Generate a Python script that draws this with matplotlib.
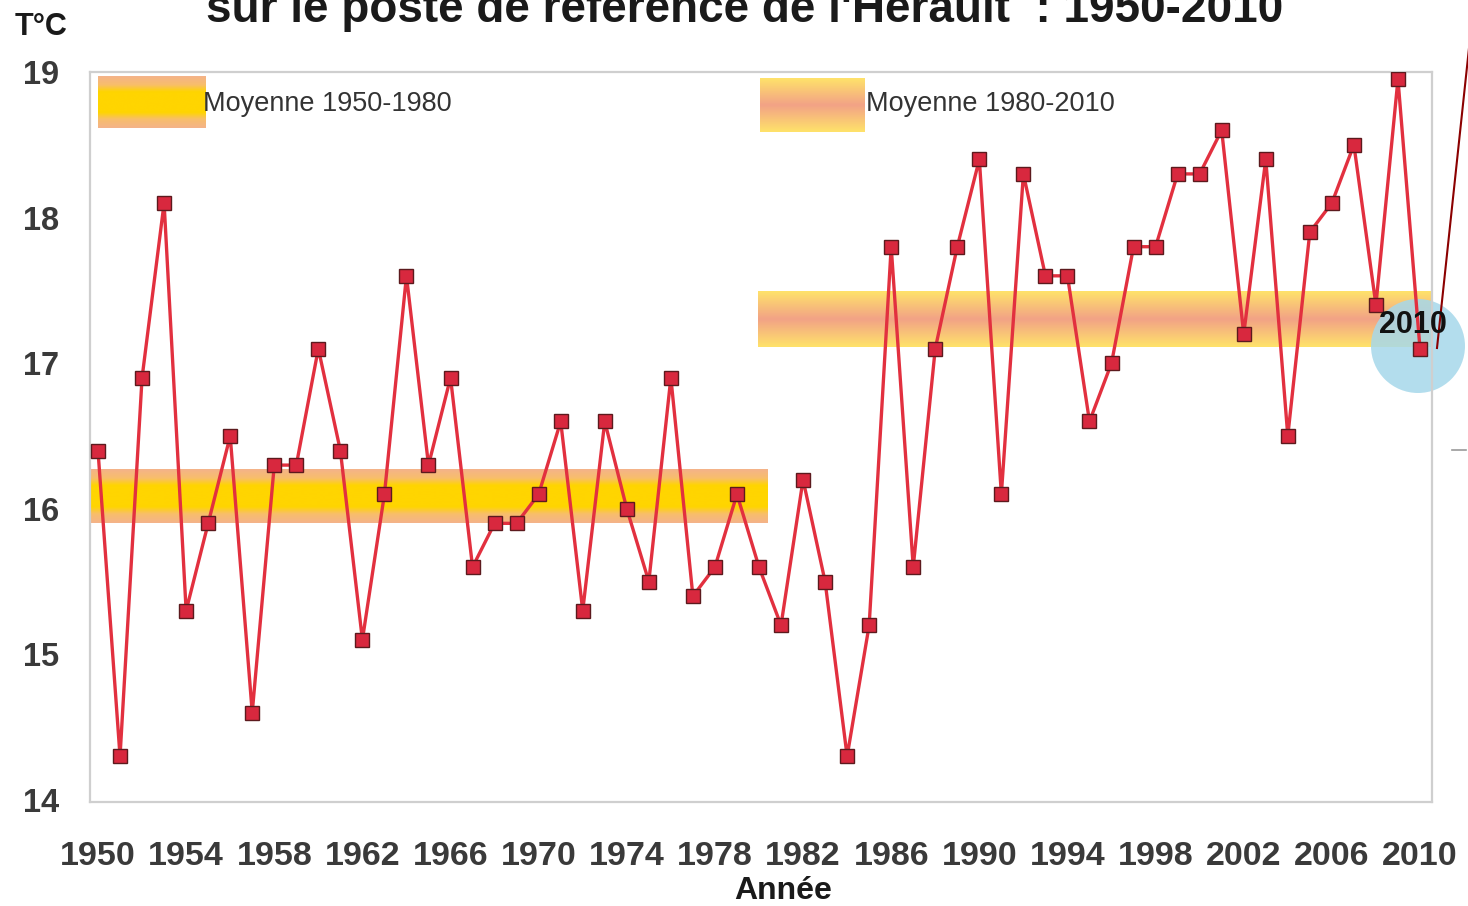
import matplotlib
matplotlib.use('Agg')
import matplotlib.pyplot as plt
import numpy as np
from matplotlib.colors import LinearSegmentedColormap
from matplotlib.patches import Ellipse
from matplotlib.lines import Line2D

# ---------------- data ----------------
years = list(range(1950, 2011))
temps = [16.4, 14.3, 16.9, 18.1, 15.3, 15.9, 16.5, 14.6, 16.3, 16.3,
         17.1, 16.4, 15.1, 16.1, 17.6, 16.3, 16.9, 15.6, 15.9, 15.9,
         16.1, 16.6, 15.3, 16.6, 16.0, 15.5, 16.9, 15.4, 15.6, 16.1,
         15.6, 15.2, 16.2, 15.5, 14.3, 15.2, 17.8, 15.6, 17.1, 17.8,
         18.4, 16.1, 18.3, 17.6, 17.6, 16.6, 17.0, 17.8, 17.8, 18.3,
         18.3, 18.6, 17.2, 18.4, 16.5, 17.9, 18.1, 18.5, 17.4, 18.95,
         17.1]
mean_labels = ["Moyenne 1950-1980", "Moyenne 1980-2010"]
mean_spans = [(1949.6, 1980.37), (1979.96, 2010.7)]
mean_values = [16.09, 17.30]
mean_halfwidth = [0.185, 0.19]
xtick_years = list(range(1950, 2011, 4))
ytick_values = [14, 15, 16, 17, 18, 19]
title_text = "sur le poste de référence de l'Hérault  : 1950-2010"
highlight_year = "2010"

# ---------------- style ----------------
plt.rcParams['font.family'] = ['Liberation Sans', 'DejaVu Sans']
W, H = 1468, 906
fig = plt.figure(figsize=(W / 100, H / 100), dpi=100)
ax = fig.add_axes([90 / W, 1 - 802 / H, (1432 - 90) / W, (802 - 72) / H])

cmap1 = LinearSegmentedColormap.from_list(
    'b1', [(0, '#F4B38A'), (0.17, '#F8BE6A'), (0.3, '#FFD500'),
           (0.7, '#FFD500'), (0.83, '#F8BE6A'), (1, '#F4B38A')])
cmap2 = LinearSegmentedColormap.from_list(
    'b2', [(0, '#FFE36A'), (0.5, '#F2A286'), (1, '#FFE36A')])
cmaps = [cmap1, cmap2]
grad = np.linspace(0, 1, 256).reshape(-1, 1)

for (x0, x1), m, hw, cm in zip(mean_spans, mean_values, mean_halfwidth, cmaps):
    ax.imshow(grad, cmap=cm, aspect='auto', extent=[x0, x1, m - hw, m + hw],
              origin='lower', zorder=1, interpolation='bicubic')

# highlight circle (figure coords)
circ = Ellipse((1418 / W, 1 - 346 / H), 94 / W, 94 / H, transform=fig.transFigure,
               facecolor='#A6D8EA', edgecolor='none', alpha=0.85, zorder=2)
ax.add_artist(circ)
circ.set_clip_on(False)

ax.plot(years, temps, color='#E2303F', lw=2.4, zorder=3,
        marker='s', markersize=10, markerfacecolor='#D8283E',
        markeredgecolor='#5C1A1E', markeredgewidth=1.0)

ax.set_xlim(1949.637, 2010.545)
ax.set_ylim(13.986, 19.0)

# legend swatches
sw = [((98 - 90) / 1342, (206 - 90) / 1342, 1 - (128 - 72) / 730, 1 - (76 - 72) / 730),
      ((760 - 90) / 1342, (865 - 90) / 1342, 1 - (132 - 72) / 730, 1 - (78 - 72) / 730)]
txt_x = [(203 - 90) / 1342, (866 - 90) / 1342]
for (x0, x1, y0, y1), cm, lab, tx in zip(sw, cmaps, mean_labels, txt_x):
    ax.imshow(grad, cmap=cm, aspect='auto', extent=[x0, x1, y0, y1],
              origin='lower', transform=ax.transAxes, zorder=2, interpolation='bicubic')
    ax.text(tx, 1 - (104 - 72) / 730, lab, transform=ax.transAxes, fontsize=19.5,
            color='#333333', va='center', ha='left', zorder=4)

# axes styling
for s in ax.spines.values():
    s.set_color('#CFCFCF')
    s.set_linewidth(1.6)
ax.set_xticks(xtick_years)
ax.set_xticklabels([str(y) for y in xtick_years])
ax.set_yticks(ytick_values)
ax.set_yticklabels([str(v) for v in ytick_values])
ax.tick_params(axis='x', length=0, pad=28, labelsize=24.5, labelcolor='#3A3A3A')
ax.tick_params(axis='y', length=0, pad=22, labelsize=23.5, labelcolor='#3A3A3A')
for lab in ax.get_xticklabels() + ax.get_yticklabels():
    lab.set_fontweight('bold')

# texts
fig.text(783 / W, 1 - 891 / H, 'Année', ha='center', va='center',
         fontsize=23, fontweight='bold', color='#1A1A1A')
fig.text(745 / W, 1 - 22 / H, title_text, ha='center', va='baseline',
         fontsize=33, fontweight='bold', color='#1A1A1A')
fig.text(15 / W, 1 - 27 / H, 'T°C', ha='left', va='center',
         fontsize=22, fontweight='bold', color='#1A1A1A')
fig.text(1413 / W, 1 - 325 / H, highlight_year, ha='center', va='center',
         fontsize=22, fontweight='bold', color='#111111', zorder=10)

# annotation line and small dash
fig.add_artist(Line2D([1437 / W, 1472 / W], [1 - 348 / H, 1 - 20 / H],
                      transform=fig.transFigure, color='#8B0000', lw=1.5))
fig.add_artist(Line2D([1452 / W, 1466 / W], [1 - 450 / H, 1 - 450 / H],
                      transform=fig.transFigure, color='#9A9A9A', lw=1.2))

fig.savefig('out.png', dpi=100)
